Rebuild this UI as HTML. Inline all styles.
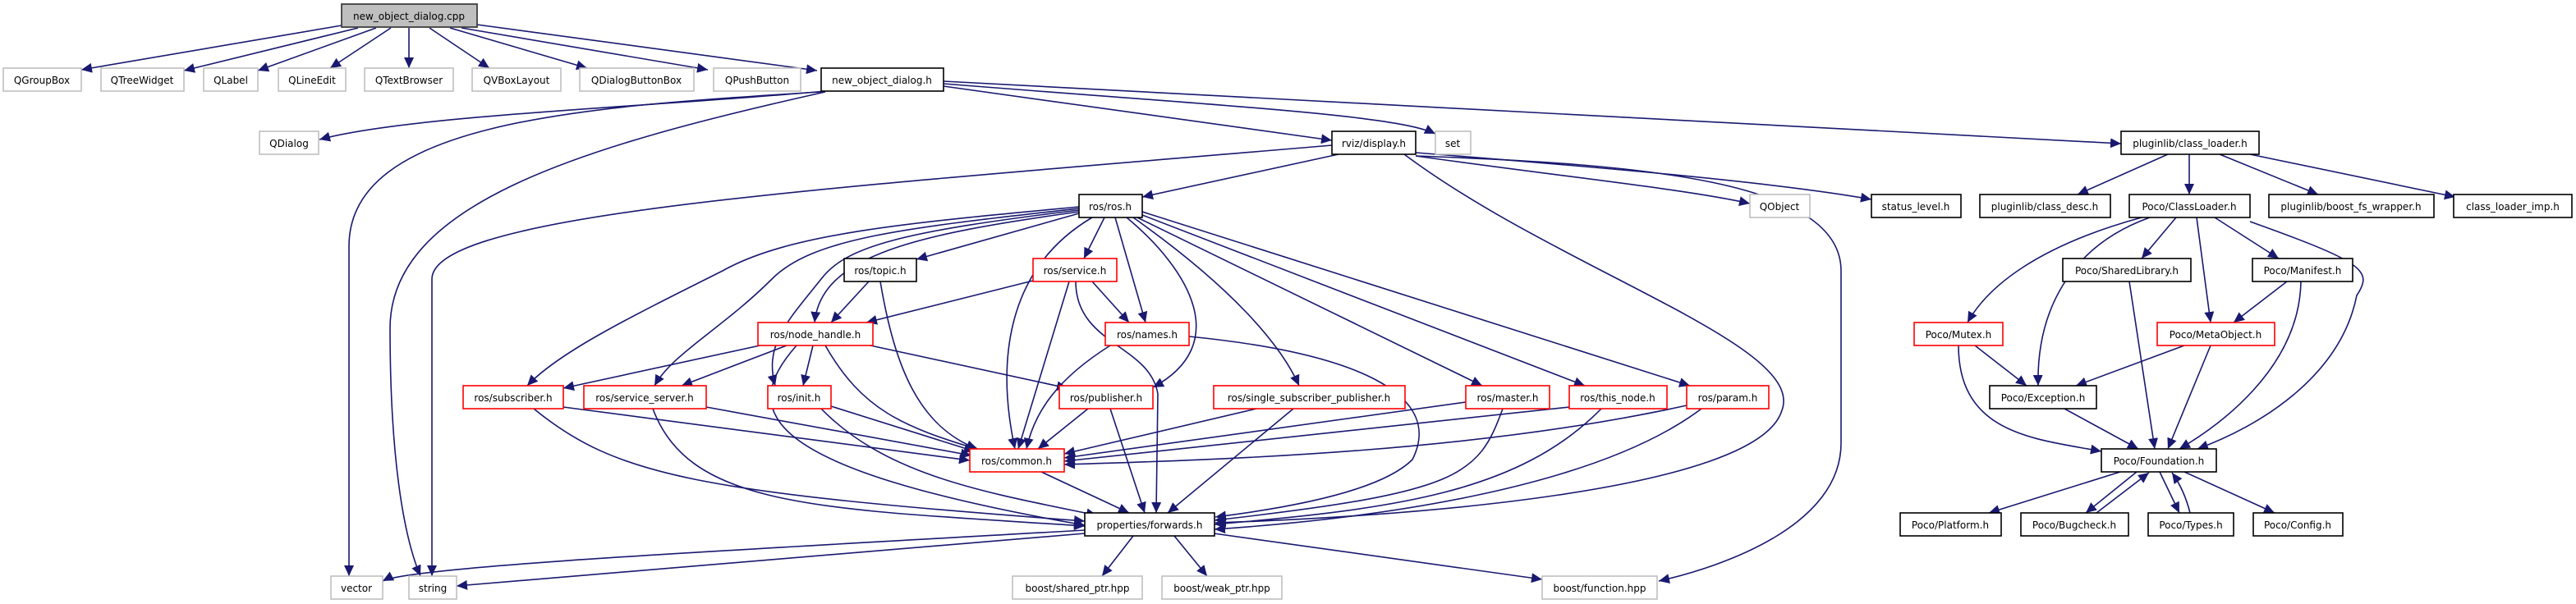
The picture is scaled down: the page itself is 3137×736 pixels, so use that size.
<!DOCTYPE html>
<html><head><meta charset="utf-8"><style>
html,body{margin:0;padding:0;background:#fff;}
svg{display:block;}
text{font-family:"DejaVu Sans","Liberation Sans",sans-serif;font-size:12px;fill:#000;text-anchor:middle;}
.e{fill:none;stroke:#191970;stroke-width:1.6;marker-end:url(#a);}
.b{fill:#fff;stroke:#000;stroke-width:1.6;}
.g{fill:#fff;stroke:#bfbfbf;stroke-width:1.6;}
.r{fill:#fff;stroke:#ff0000;stroke-width:1.6;}
</style></head><body>
<svg width="3137" height="736" viewBox="0 0 3137 736" xmlns="http://www.w3.org/2000/svg">
<defs><marker id="a" markerUnits="userSpaceOnUse" markerWidth="14" markerHeight="12" refX="13" refY="6" orient="auto"><path d="M0,0 L13,6 L0,12 z" fill="#191970"/></marker></defs>
<g>
<path class="e" d="M416,31 L99,85"/>
<path class="e" d="M436,34 L224,86"/>
<path class="e" d="M458,34 L314,86"/>
<path class="e" d="M476,34 L402,83"/>
<path class="e" d="M498,34 L498,83"/>
<path class="e" d="M523,34 L596,83"/>
<path class="e" d="M548,34 L715,83"/>
<path class="e" d="M562,34 L862,85"/>
<path class="e" d="M581,30 L995,86"/>
<path class="e" d="M1005,111 C800,130 500,140 389,170"/>
<path class="e" d="M1000,112 C700,130 425,150 425,300 L425,702"/>
<path class="e" d="M1005,112 C700,180 475,250 475,400 C475,550 490,650 512,702"/>
<path class="e" d="M1149,105 L1622,171"/>
<path class="e" d="M1149,102 C1500,130 1700,140 1748,163"/>
<path class="e" d="M1149,99 L2583,175"/>
<path class="e" d="M1622,177 C1000,230 526,260 526,340 L526,702"/>
<path class="e" d="M1630,188 L1391,240"/>
<path class="e" d="M1724,190 C1900,215 2050,230 2131,248"/>
<path class="e" d="M1724,186 C1900,200 2150,220 2279,243"/>
<path class="e" d="M1724,190 C2000,200 2242,220 2242,330 L2242,540 C2242,640 2100,690 2020,708"/>
<path class="e" d="M1710,188 C1900,330 2200,420 2170,500 C2140,600 1700,630 1480,637"/>
<path class="e" d="M2640,188 L2530,237"/>
<path class="e" d="M2666,188 L2666,237"/>
<path class="e" d="M2703,188 L2823,237"/>
<path class="e" d="M2740,188 L2990,240"/>
<path class="e" d="M2650,265 L2608,315"/>
<path class="e" d="M2697,265 L2775,315"/>
<path class="e" d="M2675,265 L2692,393"/>
<path class="e" d="M2608,265 C2480,300 2420,350 2396,393"/>
<path class="e" d="M2618,265 C2520,300 2480,380 2482,470"/>
<path class="e" d="M2740,270 C2880,320 2890,330 2870,360 C2850,460 2750,520 2676,547"/>
<path class="e" d="M2593,343 L2624,547"/>
<path class="e" d="M2785,343 L2720,393"/>
<path class="e" d="M2802,343 C2800,450 2700,520 2654,547"/>
<path class="e" d="M2405,421 L2468,470"/>
<path class="e" d="M2385,421 C2385,530 2480,535 2559,550"/>
<path class="e" d="M2660,421 L2528,470"/>
<path class="e" d="M2692,421 L2640,547"/>
<path class="e" d="M2514,498 L2604,547"/>
<path class="e" d="M2582,575 L2422,625"/>
<path class="e" d="M2602,575 L2540,625"/>
<path class="e" d="M2553,625 L2617,576"/>
<path class="e" d="M2630,575 L2654,625"/>
<path class="e" d="M2667,625 C2662,605 2655,590 2645,576"/>
<path class="e" d="M2660,575 L2770,625"/>
<path class="e" d="M1314,260 L1116,316"/>
<path class="e" d="M1345,265 L1320,315"/>
<path class="e" d="M1314,258 C1120,285 1000,310 992,393"/>
<path class="e" d="M1358,265 L1395,393"/>
<path class="e" d="M1314,252 C1100,272 960,285 880,330 C760,390 680,430 642,470"/>
<path class="e" d="M1314,254 C1100,278 990,290 940,340 C880,400 820,430 797,470"/>
<path class="e" d="M1314,256 C1100,282 1030,300 1000,340 C960,390 930,420 944,470"/>
<path class="e" d="M1330,265 C1220,330 1215,450 1236,547"/>
<path class="e" d="M1372,265 C1450,330 1500,420 1404,472"/>
<path class="e" d="M1380,265 C1500,350 1560,420 1582,470"/>
<path class="e" d="M1385,265 L1805,470"/>
<path class="e" d="M1391,262 L1930,470"/>
<path class="e" d="M1391,258 L2058,470"/>
<path class="e" d="M1258,342 L1055,393"/>
<path class="e" d="M1330,343 L1375,393"/>
<path class="e" d="M1302,343 L1240,547"/>
<path class="e" d="M1310,343 C1310,420 1400,420 1410,480 L1408,625"/>
<path class="e" d="M1058,343 L1012,393"/>
<path class="e" d="M1072,343 C1090,450 1120,520 1190,547"/>
<path class="e" d="M930,420 L686,473"/>
<path class="e" d="M958,421 L830,470"/>
<path class="e" d="M990,421 L978,470"/>
<path class="e" d="M1060,421 L1300,473"/>
<path class="e" d="M1005,421 C1050,500 1100,520 1192,548"/>
<path class="e" d="M970,421 C900,500 920,570 1321,640"/>
<path class="e" d="M1352,421 C1290,460 1260,500 1250,547"/>
<path class="e" d="M1448,410 C1650,430 1760,480 1720,560 C1680,600 1560,620 1480,630"/>
<path class="e" d="M686,496 L1181,561"/>
<path class="e" d="M650,498 C750,580 850,600 1321,635"/>
<path class="e" d="M860,496 L1183,555"/>
<path class="e" d="M795,498 C840,620 1000,620 1321,641"/>
<path class="e" d="M1012,495 L1187,550"/>
<path class="e" d="M1000,498 C1080,580 1200,600 1336,628"/>
<path class="e" d="M1325,498 L1264,547"/>
<path class="e" d="M1352,498 L1394,625"/>
<path class="e" d="M1530,498 L1296,553"/>
<path class="e" d="M1575,498 L1422,625"/>
<path class="e" d="M1785,490 L1296,558"/>
<path class="e" d="M1830,498 C1800,580 1780,600 1479,634"/>
<path class="e" d="M1911,496 L1296,562"/>
<path class="e" d="M1950,498 C1850,600 1700,620 1479,639"/>
<path class="e" d="M2054,494 C1800,550 1500,560 1296,566"/>
<path class="e" d="M2072,498 C1950,590 1700,630 1479,645"/>
<path class="e" d="M1268,575 L1375,625"/>
<path class="e" d="M1321,646 C900,670 500,690 466,708"/>
<path class="e" d="M1321,650 L556,714"/>
<path class="e" d="M1380,653 L1342,702"/>
<path class="e" d="M1430,653 L1470,702"/>
<path class="e" d="M1478,650 L1878,706"/>
</g>
<g>
<rect x="416" y="5" width="165" height="28" fill="#bfbfbf" stroke="#404040" stroke-width="1.8"/><text x="498" y="24">new_object_dialog.cpp</text>
<rect class="g" x="4" y="83" width="95" height="28"/><text x="51" y="102">QGroupBox</text>
<rect class="g" x="123" y="83" width="101" height="28"/><text x="173" y="102">QTreeWidget</text>
<rect class="g" x="248" y="83" width="66" height="28"/><text x="281" y="102">QLabel</text>
<rect class="g" x="339" y="83" width="82" height="28"/><text x="380" y="102">QLineEdit</text>
<rect class="g" x="444" y="83" width="108" height="28"/><text x="498" y="102">QTextBrowser</text>
<rect class="g" x="575" y="83" width="108" height="28"/><text x="629" y="102">QVBoxLayout</text>
<rect class="g" x="706" y="83" width="139" height="28"/><text x="775" y="102">QDialogButtonBox</text>
<rect class="g" x="869" y="83" width="106" height="28"/><text x="922" y="102">QPushButton</text>
<rect class="b" x="1000" y="83" width="149" height="28"/><text x="1074" y="102">new_object_dialog.h</text>
<rect class="g" x="316" y="160" width="72" height="28"/><text x="352" y="179">QDialog</text>
<rect class="b" x="1622" y="160" width="102" height="28"/><text x="1673" y="179">rviz/display.h</text>
<rect class="g" x="1748" y="160" width="43" height="28"/><text x="1769" y="179">set</text>
<rect class="b" x="2583" y="160" width="168" height="28"/><text x="2667" y="179">pluginlib/class_loader.h</text>
<rect class="b" x="1314" y="237" width="77" height="28"/><text x="1352" y="256">ros/ros.h</text>
<rect class="g" x="2131" y="237" width="73" height="28"/><text x="2167" y="256">QObject</text>
<rect class="b" x="2279" y="237" width="109" height="28"/><text x="2333" y="256">status_level.h</text>
<rect class="b" x="2411" y="237" width="159" height="28"/><text x="2490" y="256">pluginlib/class_desc.h</text>
<rect class="b" x="2593" y="237" width="147" height="28"/><text x="2666" y="256">Poco/ClassLoader.h</text>
<rect class="b" x="2763" y="237" width="201" height="28"/><text x="2863" y="256">pluginlib/boost_fs_wrapper.h</text>
<rect class="b" x="2988" y="237" width="144" height="28"/><text x="3060" y="256">class_loader_imp.h</text>
<rect class="b" x="1028" y="315" width="88" height="28"/><text x="1072" y="334">ros/topic.h</text>
<rect class="r" x="1258" y="315" width="102" height="28"/><text x="1309" y="334">ros/service.h</text>
<rect class="b" x="2512" y="315" width="156" height="28"/><text x="2590" y="334">Poco/SharedLibrary.h</text>
<rect class="b" x="2743" y="315" width="122" height="28"/><text x="2804" y="334">Poco/Manifest.h</text>
<rect class="r" x="923" y="393" width="140" height="28"/><text x="993" y="412">ros/node_handle.h</text>
<rect class="r" x="1346" y="393" width="102" height="28"/><text x="1397" y="412">ros/names.h</text>
<rect class="r" x="2331" y="393" width="108" height="28"/><text x="2385" y="412">Poco/Mutex.h</text>
<rect class="r" x="2627" y="393" width="143" height="28"/><text x="2698" y="412">Poco/MetaObject.h</text>
<rect class="r" x="564" y="470" width="122" height="28"/><text x="625" y="489">ros/subscriber.h</text>
<rect class="r" x="711" y="470" width="149" height="28"/><text x="785" y="489">ros/service_server.h</text>
<rect class="r" x="935" y="470" width="77" height="28"/><text x="973" y="489">ros/init.h</text>
<rect class="r" x="1290" y="470" width="114" height="28"/><text x="1347" y="489">ros/publisher.h</text>
<rect class="r" x="1478" y="470" width="233" height="28"/><text x="1594" y="489">ros/single_subscriber_publisher.h</text>
<rect class="r" x="1785" y="470" width="102" height="28"/><text x="1836" y="489">ros/master.h</text>
<rect class="r" x="1911" y="470" width="119" height="28"/><text x="1970" y="489">ros/this_node.h</text>
<rect class="r" x="2054" y="470" width="100" height="28"/><text x="2104" y="489">ros/param.h</text>
<rect class="b" x="2423" y="470" width="130" height="28"/><text x="2488" y="489">Poco/Exception.h</text>
<rect class="r" x="1181" y="547" width="115" height="28"/><text x="1238" y="566">ros/common.h</text>
<rect class="b" x="2559" y="547" width="140" height="28"/><text x="2629" y="566">Poco/Foundation.h</text>
<rect class="b" x="1321" y="625" width="158" height="28"/><text x="1400" y="644">properties/forwards.h</text>
<rect class="b" x="2314" y="625" width="123" height="28"/><text x="2375" y="644">Poco/Platform.h</text>
<rect class="b" x="2461" y="625" width="131" height="28"/><text x="2526" y="644">Poco/Bugcheck.h</text>
<rect class="b" x="2616" y="625" width="104" height="28"/><text x="2668" y="644">Poco/Types.h</text>
<rect class="b" x="2744" y="625" width="109" height="28"/><text x="2798" y="644">Poco/Config.h</text>
<rect class="g" x="403" y="702" width="63" height="28"/><text x="434" y="721">vector</text>
<rect class="g" x="498" y="702" width="58" height="28"/><text x="527" y="721">string</text>
<rect class="g" x="1233" y="702" width="158" height="28"/><text x="1312" y="721">boost/shared_ptr.hpp</text>
<rect class="g" x="1415" y="702" width="146" height="28"/><text x="1488" y="721">boost/weak_ptr.hpp</text>
<rect class="g" x="1878" y="702" width="140" height="28"/><text x="1948" y="721">boost/function.hpp</text>
</g>
</svg>
</body></html>
